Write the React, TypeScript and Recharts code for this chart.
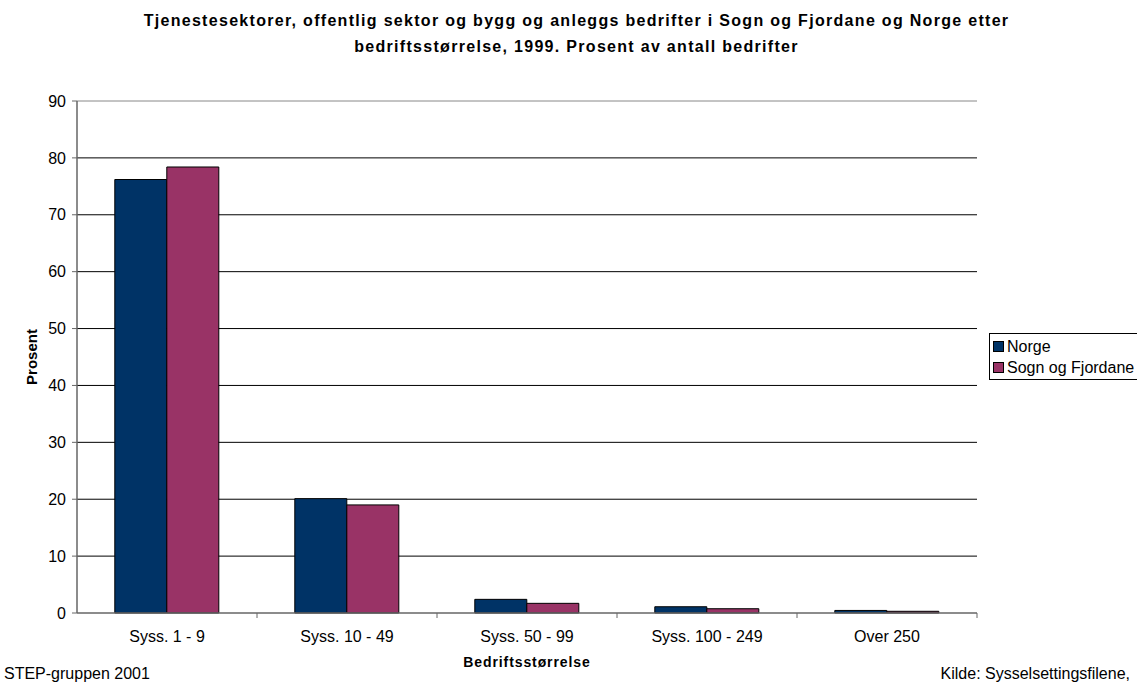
import React from "react";
import { BarChart, Bar, XAxis, YAxis, CartesianGrid, ReferenceLine } from "recharts";

const categories = ["Syss. 1 - 9", "Syss. 10 - 49", "Syss. 50 - 99", "Syss. 100 - 249", "Over 250"];
const norge = [76.2, 20.1, 2.4, 1.1, 0.45];
const sogn = [78.4, 19.0, 1.7, 0.75, 0.3];
const yTicks = [0, 10, 20, 30, 40, 50, 60, 70, 80, 90];
const gridValues = [10, 20, 30, 40, 50, 60, 70, 80];
const seriesNames = ["Norge", "Sogn og Fjordane"];
const seriesColors = ["#003366", "#993366"];

const data = categories.map((c, i) => ({ name: c, norge: norge[i], sogn: sogn[i] }));

const FONT = "'Liberation Sans', Arial, sans-serif";

const HALF_BAND = 90;

const XTick = (props: any) => {
  const { x, y, payload } = props;
  return (
    <g>
      <line x1={x + HALF_BAND} y1={y - 8} x2={x + HALF_BAND} y2={y - 3} stroke="#666" strokeWidth={1} />
      <text x={x} y={y + 21} textAnchor="middle" fontSize={16} fill="#000" fontFamily={FONT}>
        {payload.value}
      </text>
    </g>
  );
};

export default function App() {
  return (
    <div style={{ position: "absolute", left: 0, top: 0, width: 1137, height: 683, background: "#fff", fontFamily: FONT }}>
      <div style={{ position: "absolute", left: 8, top: 8, width: 1137, textAlign: "center", fontWeight: "bold", fontSize: 16, letterSpacing: 1.3, lineHeight: "26px", color: "#000" }}>
        Tjenestesektorer, offentlig sektor og bygg og anleggs bedrifter i Sogn og Fjordane og Norge etter
        <br />
        bedriftsstørrelse, 1999. Prosent av antall bedrifter
      </div>
      <BarChart
        width={1137}
        height={683}
        data={data}
        margin={{ top: 101, right: 160, bottom: 30, left: 27 }}
        barCategoryGap="21%"
        barGap={0}
      >
        <CartesianGrid vertical={false} horizontalValues={gridValues} stroke="#000" strokeWidth={1} />
        <ReferenceLine y={90} stroke="#888" strokeWidth={1} />
        <XAxis
          dataKey="name"
          height={40}
          axisLine={{ stroke: "#666", strokeWidth: 1.5 }}
          tickLine={false}
          tick={<XTick />}
          interval={0}
        />
        <YAxis
          width={50}
          domain={[0, 90]}
          ticks={yTicks}
          interval={0}
          axisLine={{ stroke: "#666", strokeWidth: 1.5 }}
          tickLine={{ stroke: "#666" }}
          tickSize={5}
          tickMargin={6}
          tick={{ fontSize: 16, fill: "#000", fontFamily: FONT }}
        />
        <YAxis
          yAxisId="right"
          orientation="right"
          width={0}
          domain={[0, 90]}
          tick={false}
          tickLine={false}
          axisLine={{ stroke: "#888", strokeWidth: 1 }}
        />
        <Bar dataKey="norge" fill={seriesColors[0]} stroke="#000" strokeWidth={1} isAnimationActive={false} />
        <Bar dataKey="sogn" fill={seriesColors[1]} stroke="#000" strokeWidth={1} isAnimationActive={false} />
      </BarChart>
      <div style={{ position: "absolute", left: 31, top: 357, transform: "translate(-50%, -50%) rotate(-90deg)", fontWeight: "bold", fontSize: 15, color: "#000", whiteSpace: "nowrap" }}>
        Prosent
      </div>
      <div style={{ position: "absolute", left: 0, width: 1054, top: 654, textAlign: "center", fontWeight: "bold", fontSize: 14, color: "#000", letterSpacing: 0.9 }}>
        Bedriftsstørrelse
      </div>
      <div style={{ position: "absolute", left: 4, top: 665, fontSize: 16, color: "#000" }}>STEP-gruppen 2001</div>
      <div style={{ position: "absolute", right: 7, top: 665, fontSize: 16, color: "#000" }}>Kilde: Sysselsettingsfilene,</div>
      <div style={{ position: "absolute", left: 989, top: 333, width: 160, height: 47, border: "1px solid #000", boxSizing: "border-box", fontSize: 16, color: "#000", paddingTop: 2 }}>
        {seriesNames.map((n, i) => (
          <div key={n} style={{ display: "flex", alignItems: "center", height: 21, paddingLeft: 3 }}>
            <span style={{ display: "inline-block", width: 9, height: 9, background: seriesColors[i], border: "1px solid #000", marginRight: 3 }} />
            {n}
          </div>
        ))}
      </div>
    </div>
  );
}
